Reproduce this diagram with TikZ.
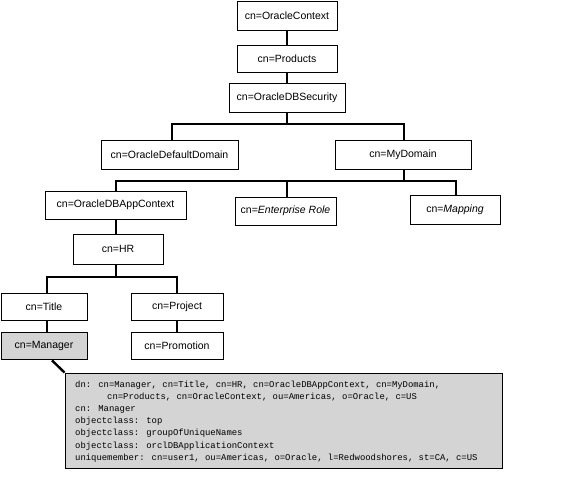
\documentclass[tikz,border=0pt]{standalone}
\usepackage{fontspec}
\setmainfont{Liberation Sans}
\newfontfamily\ldifmono{Liberation Mono}
\definecolor{ltgray}{RGB}{212,212,212}
\tikzset{
  box/.style={draw=black, line width=0.8pt, inner sep=0pt, font=\fontsize{10.5}{12}\selectfont},
  conn/.style={draw=black, line width=2pt},
  ptr/.style={draw=black, line width=2.4pt},
  shade/.style={fill=ltgray}
}
\begin{document}
\begin{tikzpicture}[x=1pt,y=-1pt]
\useasboundingbox (0,0) rectangle (572,480);
\coordinate (y124) at (0,124);
\coordinate (y181) at (0,181);
\coordinate (y277) at (0,277);

\node[box, minimum width=100pt, minimum height=29pt] (oc) at (287,15.5) {cn=OracleContext};
\node[box, minimum width=100pt, minimum height=27pt] (prod) at (287,58.5) {cn=Products};
\node[box, minimum width=116pt, minimum height=29pt] (sec) at (287,97.5) {cn=OracleDBSecurity};
\node[box, minimum width=137pt, minimum height=29pt] (odd) at (169.5,154.5) {cn=OracleDefaultDomain};
\node[box, minimum width=136pt, minimum height=29pt] (myd) at (403,154.5) {cn=MyDomain};
\node[box, minimum width=141pt, minimum height=28pt] (app) at (115.5,205) {cn=OracleDBAppContext};
\node[box, minimum width=101pt, minimum height=28pt] (ent) at (285.5,211) {cn=\textit{Enterprise Role}};
\node[box, minimum width=90pt, minimum height=29pt] (map) at (455,209.5) {cn=\textit{Mapping}};
\node[box, minimum width=90pt, minimum height=30pt] (hr) at (118,249) {cn=HR};
\node[box, minimum width=86pt, minimum height=27pt] (title) at (44,306.5) {cn=Title};
\node[box, minimum width=92pt, minimum height=27pt] (proj) at (177,306.5) {cn=Project};
\node[box, shade, minimum width=86pt, minimum height=27pt] (mgr) at (44,345.5) {cn=Manager};
\node[box, minimum width=92pt, minimum height=27pt] (prom) at (177,345.5) {cn=Promotion};

\node[box, shade, minimum width=437pt, minimum height=95pt] (callout) at (283.5,420.5) {};
\node[anchor=north west, inner sep=0pt, align=left,
      font=\ldifmono\fontsize{8.9}{12.2}\selectfont] (ldif) at (75,380.5)
  {dn: cn=Manager, cn=Title, cn=HR, cn=OracleDBAppContext, cn=MyDomain,\\
   \hspace*{32pt}cn=Products, cn=OracleContext, ou=Americas, o=Oracle, c=US\\
   cn: Manager\\
   objectclass: top\\
   objectclass: groupOfUniqueNames\\
   objectclass: orclDBApplicationContext\\
   uniquemember: cn=user1, ou=Americas, o=Oracle, l=Redwoodshores, st=CA, c=US};

% connectors
\draw[conn] (oc.south) -- (prod.north);
\draw[conn] (prod.south) -- (sec.north);
\draw[conn] (sec.south) -- (sec.south |- y124);
\draw[conn] ([xshift=2.5pt]odd.north) |- (sec.south |- y124) -| ([xshift=1pt]myd.north);
\draw[conn] ([xshift=1pt]myd.south) -- ([xshift=1pt]myd.south |- y181);
\draw[conn] ([xshift=0.5pt]app.north) |- ([xshift=1pt]myd.south |- y181) -| ([xshift=1pt]map.north);
\draw[conn] ([xshift=1.5pt]ent.north) -- ([xshift=1.5pt]ent.north |- y181);
\draw[conn] ([xshift=0.5pt]app.south) -- ([xshift=0.5pt]app.south |- hr.north);
\draw[conn] ([xshift=-2pt]hr.south) -- ([xshift=-2pt]hr.south |- y277);
\draw[conn] ([xshift=3pt]title.north) |- ([xshift=-2pt]hr.south |- y277) -| (proj.north);
\draw[conn] ([xshift=3pt]title.south) -- ([xshift=3pt]mgr.north);
\draw[conn] (proj.south) -- (prom.north);
\draw[ptr] ([xshift=8pt,yshift=-1pt]mgr.south) -- (callout.north west);
\end{tikzpicture}
\end{document}
